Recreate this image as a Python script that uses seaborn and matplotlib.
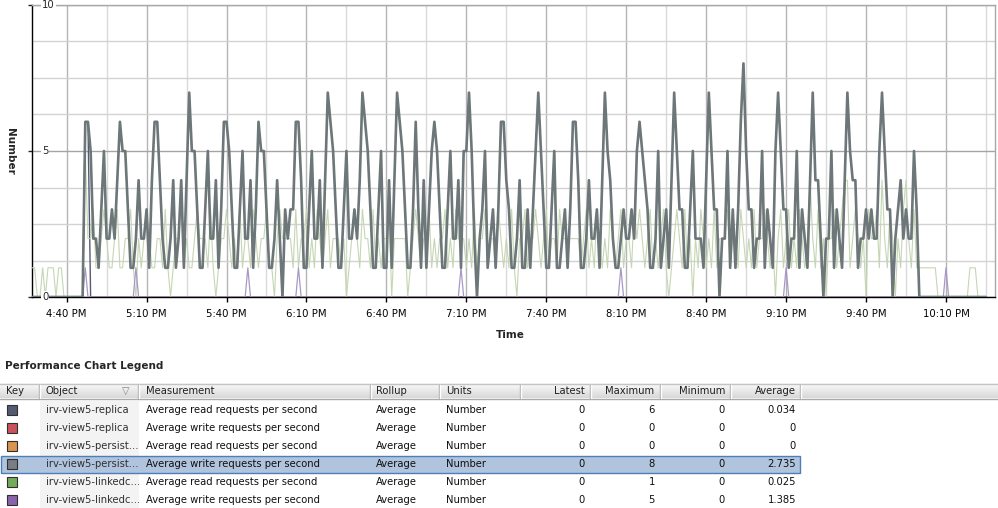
import numpy as np
import pandas as pd
import matplotlib
matplotlib.use('Agg')
import matplotlib.pyplot as plt
import matplotlib.dates as mdates
from matplotlib.colors import LinearSegmentedColormap
from matplotlib.patches import Rectangle
import seaborn as sns

# sample times: one per minute, minutes relative to 4:40 PM
minutes = np.arange(-13, 346)
t0 = pd.Timestamp('2012-05-10 16:40')

# irv-view5-persist... write requests (the thick grey line), minutes 7..319
persist_write_active = [
    6, 6, 5, 2, 2, 1, 3, 5, 2, 2,
    3, 2, 4, 6, 5, 5, 3, 1, 1, 2,
    4, 2, 2, 3, 1, 4, 6, 6, 4, 2,
    1, 1, 2, 4, 1, 2, 4, 1, 4, 7,
    5, 5, 3, 1, 1, 3, 5, 2, 2, 4,
    1, 3, 6, 6, 5, 3, 1, 1, 3, 5,
    2, 2, 4, 1, 3, 6, 5, 5, 3, 1,
    1, 2, 4, 2, 0, 3, 2, 3, 3, 6,
    6, 4, 1, 1, 3, 5, 2, 2, 4, 1,
    4, 7, 6, 5, 3, 1, 1, 3, 5, 2,
    2, 3, 2, 4, 7, 6, 5, 3, 1, 1,
    3, 5, 1, 1, 4, 1, 4, 7, 6, 5,
    3, 1, 1, 3, 6, 3, 1, 4, 1, 3,
    5, 6, 5, 3, 1, 1, 3, 5, 2, 2,
    4, 1, 5, 5, 7, 5, 2, 0, 2, 3,
    5, 1, 2, 3, 1, 3, 6, 6, 4, 3,
    1, 1, 2, 4, 1, 1, 3, 1, 3, 5,
    7, 5, 3, 1, 1, 3, 5, 1, 1, 2,
    3, 1, 3, 6, 6, 4, 1, 1, 2, 4,
    2, 2, 3, 1, 4, 7, 5, 4, 2, 1,
    1, 2, 3, 2, 2, 3, 2, 5, 6, 5,
    4, 3, 1, 1, 2, 5, 1, 2, 3, 1,
    4, 7, 5, 3, 3, 1, 1, 3, 5, 2,
    2, 2, 1, 4, 7, 5, 3, 3, 0, 2,
    2, 5, 1, 3, 1, 3, 6, 8, 5, 3,
    3, 1, 2, 2, 5, 1, 3, 2, 1, 5,
    7, 5, 3, 3, 1, 2, 2, 5, 1, 3,
    2, 1, 4, 7, 4, 4, 2, 0, 2, 2,
    5, 1, 3, 2, 1, 4, 7, 5, 4, 4,
    1, 2, 2, 3, 2, 3, 2, 2, 5, 7,
    5, 3, 3, 0, 2, 3, 4, 2, 3, 2,
    2, 5, 3,
]
persist_write_pre = [0, 0, 0, 0, 0, 0, 0, 0, 0, 0, 0, 0, 0, 0, 0, 0, 0, 0, 0, 0]
persist_write_post = [0, 0, 0, 0, 0, 0, 0, 0, 0, 0, 0, 0, 0,
                      0, 0, 0, 0, 0, 0, 0, 0, 0, 0, 0, 0, 0]

# irv-view5-linkedc... (the thin pale line)
linked_write_pre = [1, 1, 0, 0, 1, 0, 1, 1, 1, 0, 1, 1, 0, 0, 0, 0, 0, 0, 0, 0]
linked_write_active = [
    5, 2, 2, 3, 1, 1, 2, 3, 2, 1,
    1, 2, 3, 1, 1, 2, 2, 3, 1, 0,
    2, 1, 2, 3, 2, 1, 1, 2, 2, 1,
    3, 1, 0, 1, 2, 2, 3, 1, 2, 1,
    1, 2, 3, 2, 2, 2, 1, 3, 1, 0,
    1, 2, 2, 3, 2, 1, 2, 1, 3, 1,
    2, 2, 1, 3, 2, 1, 2, 2, 3, 1,
    1, 0, 2, 3, 2, 2, 2, 2, 1, 3,
    1, 2, 2, 3, 1, 2, 1, 3, 2, 1,
    2, 3, 1, 2, 2, 2, 1, 2, 0, 1,
    2, 3, 2, 1, 3, 2, 2, 1, 3, 1,
    2, 1, 2, 2, 3, 0, 2, 2, 2, 2,
    2, 0, 1, 2, 3, 2, 1, 2, 2, 3,
    1, 2, 1, 2, 2, 3, 1, 2, 1, 3,
    2, 2, 2, 1, 2, 1, 3, 1, 2, 2,
    3, 1, 2, 2, 1, 3, 2, 1, 2, 1,
    3, 1, 0, 2, 2, 3, 1, 2, 2, 3,
    2, 1, 2, 3, 1, 2, 2, 1, 3, 2,
    2, 2, 2, 2, 2, 2, 1, 2, 3, 1,
    2, 1, 3, 2, 1, 2, 1, 3, 2, 1,
    2, 3, 1, 2, 2, 1, 3, 2, 3, 2,
    1, 2, 3, 1, 2, 1, 2, 3, 1, 0,
    1, 2, 3, 2, 1, 3, 1, 2, 0, 2,
    1, 3, 2, 1, 2, 1, 3, 1, 2, 2,
    2, 3, 1, 2, 2, 1, 3, 2, 1, 2,
    1, 3, 1, 2, 2, 3, 2, 1, 2, 0,
    2, 3, 1, 2, 3, 1, 2, 1, 3, 2,
    1, 2, 4, 2, 1, 3, 1, 2, 0, 2,
    2, 3, 1, 2, 3, 4, 4, 1, 2, 3,
    2, 1, 2, 0, 3, 2, 2, 3, 1, 4,
    2, 1, 3, 2, 0, 2, 1, 3, 4, 2,
    1, 3, 1,
]
linked_write_post = [1, 1, 1, 1, 1, 1, 1, 0, 0, 0, 0, 0, 0,
                     0, 0, 0, 0, 0, 0, 1, 1, 1, 0, 0, 0, 0]

# single-sample spikes to 1 (small purple blips)
linked_read_spike_minutes = [7, 26, 68, 87, 148, 208, 270, 330]
# replica read: only the first two samples are non-zero
replica_read_peak_minutes = [7, 8]
replica_read_peak_value = 6

# legend table
legend_title = 'Performance Chart Legend'
col_names = ['Key', 'Object', 'Measurement', 'Rollup', 'Units',
             'Latest', 'Maximum', 'Minimum', 'Average']
key_colors = ['#545a72', '#c9525c', '#d9954e', '#7a7e84', '#74aa58', '#8a64aa']
objects = ['irv-view5-replica', 'irv-view5-replica', 'irv-view5-persist...',
           'irv-view5-persist...', 'irv-view5-linkedc...', 'irv-view5-linkedc...']
measurements = ['Average read requests per second', 'Average write requests per second'] * 3
rollups = ['Average'] * 6
units = ['Number'] * 6
latest = ['0', '0', '0', '0', '0', '0']
maximum = ['6', '0', '0', '8', '1', '5']
minimum = ['0', '0', '0', '0', '0', '0']
average = ['0.034', '0', '0', '2.735', '0.025', '1.385']
selected_row = 3

# ---- build series
times = t0 + pd.to_timedelta(minutes, unit='min')
persist_write = np.array(persist_write_pre + persist_write_active + persist_write_post, float)
linked_write = np.array(linked_write_pre + linked_write_active + linked_write_post, float)
linked_read = np.isin(minutes, linked_read_spike_minutes).astype(float)
replica_read = np.where(np.isin(minutes, replica_read_peak_minutes), replica_read_peak_value, 0.0)
zeros = np.zeros(len(minutes))

sns.set_style('white')
plt.rcParams['font.family'] = ['DejaVu Sans']

fig = plt.figure(figsize=(9.98, 5.08), dpi=100)
ax = fig.add_axes([32 / 998, 1 - 297 / 508, 963 / 998, 292 / 508])

sns.lineplot(x=times, y=replica_read, ax=ax, color='#545a72', lw=1.0, zorder=2)
sns.lineplot(x=times, y=linked_write, ax=ax, color='#c5d6b4', lw=0.8, zorder=3)
sns.lineplot(x=times, y=linked_read, ax=ax, color='#a898c8', lw=0.9, zorder=4)
sns.lineplot(x=times, y=zeros, ax=ax, color='#c070a0', lw=1.0, zorder=4)
sns.lineplot(x=times, y=persist_write, ax=ax, color='#6d7678', lw=1.9, zorder=5)

ax.set_xlim(t0 - pd.Timedelta(minutes=13), t0 + pd.Timedelta(minutes=348.4))
ax.set_ylim(0, 10)

ax.xaxis.set_major_locator(mdates.MinuteLocator(byminute=[10, 40]))
ax.xaxis.set_minor_locator(mdates.MinuteLocator(byminute=[25, 55]))
ax.xaxis.set_major_formatter(
    plt.FuncFormatter(lambda v, p: mdates.num2date(v).strftime('%I:%M %p').lstrip('0')))
ax.set_yticks([0, 5, 10])
ax.set_yticks([1.25, 2.5, 3.75, 6.25, 7.5, 8.75], minor=True)
ax.set_yticklabels([])

ax.grid(which='major', axis='x', color='#b4b4b4', lw=1)
ax.grid(which='minor', axis='x', color='#dadada', lw=1)
ax.grid(which='major', axis='y', color='#a4a4a4', lw=1)
ax.grid(which='minor', axis='y', color='#d2d2d2', lw=1)
ax.tick_params(axis='x', which='major', direction='out', length=3.5, width=1,
               labelsize=7.3, pad=5, colors='black', bottom=True)
ax.tick_params(axis='y', which='major', direction='out', length=3, width=1, left=True)
ax.tick_params(which='minor', length=0)

for v in [0, 5, 10]:
    ax.text(0.0104, v, str(v), transform=ax.get_yaxis_transform(), ha='left', va='center',
            fontsize=7.3, zorder=6, bbox=dict(facecolor='white', edgecolor='none', pad=0.6))

for s in ['left', 'bottom']:
    ax.spines[s].set_color('black')
    ax.spines[s].set_linewidth(1)
for s in ['top', 'right']:
    ax.spines[s].set_color('#a8a8a8')
    ax.spines[s].set_linewidth(1)

ax.set_xlabel('Time', fontsize=7.5, fontweight='bold')
ax.xaxis.set_label_coords(0.497, -0.112)
ax.set_ylabel('Number', fontsize=7.5, fontweight='bold', rotation=270, va='center')
ax.yaxis.set_label_coords(-0.023, 0.5)

# ---- legend table (pixel coordinates of the figure)
tab = fig.add_axes([0, 0, 1, 1], facecolor='none')
tab.axis('off')

tab.text(5, 366, legend_title, fontsize=7.5, fontweight='bold', ha='left', va='center')

grad = LinearSegmentedColormap.from_list('hdr', ['#fbfbfb', '#d8d8d8'])
tab.imshow(np.linspace(0, 1, 32).reshape(-1, 1), extent=(0, 998, 398.5, 383.5),
           cmap=grad, aspect='auto', zorder=1)
tab.plot([0, 998], [383.5, 383.5], color='#c4c4c4', lw=1, zorder=2)
tab.plot([0, 998], [398.5, 398.5], color='#a8a8a8', lw=1, zorder=2)
col_edges = [39, 138, 370, 439, 520, 590, 660, 730, 800]
for xe in col_edges:
    tab.plot([xe, xe], [384.5, 398], color='#b0b0b0', lw=1, zorder=3)
    tab.plot([xe + 1, xe + 1], [384.5, 398], color='#ffffff', lw=1, zorder=3)

head_x = [6, 46, 146, 376, 446, 585, 654, 725, 796]
head_ha = ['left'] * 5 + ['right'] * 4
for name, hx, ha in zip(col_names, head_x, head_ha):
    tab.text(hx, 391, name, fontsize=7.2, ha=ha, va='center', color='#202020', zorder=4)
tab.text(126, 391, '\u25bd', fontsize=7, ha='center', va='center', color='#808080', zorder=4)

row_y = [410, 428, 446, 464, 482, 500]
tab.add_patch(Rectangle((40, 401), 99, 107, facecolor='#f3f3f3', edgecolor='none', zorder=1))
sy = row_y[selected_row]
tab.add_patch(Rectangle((0.5, sy - 8), 799.5, 17, facecolor='#b0c4de',
                        edgecolor='#4f7db5', lw=1, zorder=2))
for i, y in enumerate(row_y):
    tab.add_patch(Rectangle((7, y - 5), 10, 10, facecolor=key_colors[i],
                            edgecolor='#303030', lw=0.8, zorder=4))
    tab.text(46, y, objects[i], fontsize=7.2, ha='left', va='center', color='#303030', zorder=4)
    tab.text(146, y, measurements[i], fontsize=7.2, ha='left', va='center', color='#101010', zorder=4)
    tab.text(376, y, rollups[i], fontsize=7.2, ha='left', va='center', color='#101010', zorder=4)
    tab.text(446, y, units[i], fontsize=7.2, ha='left', va='center', color='#101010', zorder=4)
    tab.text(585, y, latest[i], fontsize=7.2, ha='right', va='center', color='#101010', zorder=4)
    tab.text(655, y, maximum[i], fontsize=7.2, ha='right', va='center', color='#101010', zorder=4)
    tab.text(725, y, minimum[i], fontsize=7.2, ha='right', va='center', color='#101010', zorder=4)
    tab.text(796, y, average[i], fontsize=7.2, ha='right', va='center', color='#101010', zorder=4)

tab.set_xlim(0, 998)
tab.set_ylim(508, 0)

fig.savefig('out.png', dpi=100, facecolor='white')
